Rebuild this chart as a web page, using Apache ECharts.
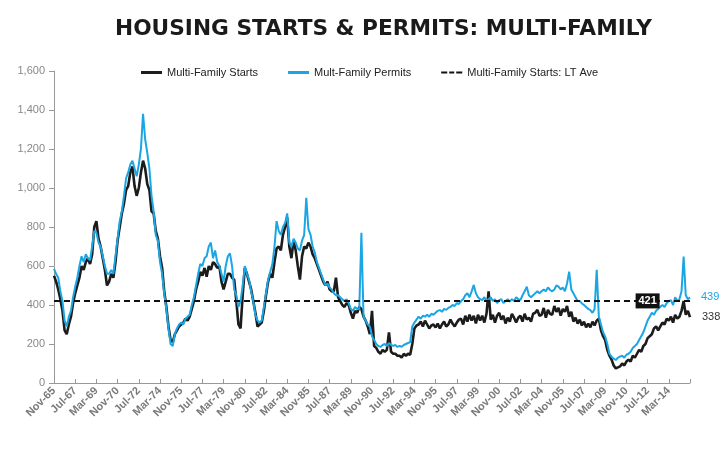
<!DOCTYPE html>
<html><head><meta charset="utf-8">
<script src="https://cdn.jsdelivr.net/npm/echarts@6/dist/echarts.min.js"></script>
<style>html,body{margin:0;padding:0;background:#fff}#c{width:728px;height:451px}</style>
</head><body><div id="c"></div>
<script>
// Bi-monthly observations starting Nov-65, thousands of units (SAAR)
const MONTHS = ['Jan','Feb','Mar','Apr','May','Jun','Jul','Aug','Sep','Oct','Nov','Dec'];
const categories = [];
for (let k = 0; k < 301; k++) {
  const m = 10 + 2 * k;
  categories.push(MONTHS[m % 12] + '-' + String((65 + Math.floor(m / 12)) % 100).padStart(2, '0'));
}
const tickLabels = ['Nov-65','Jul-67','Mar-69','Nov-70','Jul-72','Mar-74','Nov-75','Jul-77','Mar-79','Nov-80',
  'Jul-82','Mar-84','Nov-85','Jul-87','Mar-89','Nov-90','Jul-92','Mar-94','Nov-95','Jul-97',
  'Mar-99','Nov-00','Jul-02','Mar-04','Nov-05','Jul-07','Mar-09','Nov-10','Jul-12','Mar-14'];

const starts = [
  550,520,480,430,370,270,250,300,340,410,
  460,500,540,600,580,620,640,610,660,800,
  830,740,700,640,580,500,520,560,540,620,
  730,800,870,920,990,1010,1080,1110,1010,960,
  1000,1080,1140,1100,1020,990,880,870,780,740,
  650,590,470,390,290,220,210,250,270,290,
  300,310,330,320,340,380,420,480,520,570,
  550,590,545,600,580,620,610,590,600,520,
  480,520,560,560,540,530,420,300,280,450,
  590,560,520,480,420,360,290,300,310,370,
  450,520,560,540,620,690,700,680,760,800,
  850,700,640,730,680,600,530,650,700,690,
  720,700,660,640,610,580,550,520,500,520,
  480,470,470,540,440,420,400,390,410,400,
  360,330,370,360,390,380,340,320,290,250,
  370,190,180,160,150,170,160,170,260,160,
  150,150,140,140,130,150,140,150,145,200,
  280,295,300,315,290,320,300,280,295,300,
  285,305,280,300,315,290,300,325,305,290,
  310,325,330,300,345,315,350,320,345,305,
  350,320,345,310,355,470,325,350,310,345,
  360,325,345,305,335,315,355,335,310,335,
  345,315,355,325,335,315,355,360,375,345,
  350,385,335,375,355,350,395,365,385,345,
  380,365,395,340,365,315,335,305,325,295,
  315,285,305,285,315,295,320,330,270,240,
  220,170,140,120,90,75,80,85,100,90,
  110,120,110,140,130,150,170,160,190,200,
  230,240,250,280,290,270,290,310,300,330,
  320,340,310,350,330,340,370,420,350,370,
  338
];
const permits = [
  585,560,540,470,420,320,290,340,370,440,
  494,540,600,650,620,660,640,630,700,780,
  770,720,700,650,600,560,560,580,560,650,
  740,830,880,960,1050,1080,1120,1140,1100,1060,
  1120,1200,1380,1250,1180,1100,960,880,760,730,
  620,560,460,380,280,200,190,250,280,300,
  310,300,330,340,350,400,440,500,560,610,
  600,640,650,700,720,640,680,620,600,560,
  520,600,650,665,600,480,450,390,420,500,
  600,560,530,470,420,350,320,310,320,390,
  460,530,570,610,700,830,780,760,800,820,
  870,720,700,740,720,690,680,730,760,950,
  790,760,700,670,620,590,560,530,500,510,
  490,480,460,450,450,440,430,420,430,410,
  380,370,390,380,380,770,340,320,300,290,
  240,220,200,190,185,195,200,190,205,195,
  190,195,185,190,186,195,200,205,210,290,
  310,325,340,330,345,340,350,340,355,350,
  360,370,374,365,380,375,385,390,400,395,
  410,405,420,430,450,460,440,470,503,460,
  440,430,425,440,420,430,440,420,430,410,
  425,430,410,420,430,417,430,420,440,430,
  425,450,470,494,450,440,450,460,470,460,
  470,480,470,490,477,470,480,500,494,480,
  490,470,510,571,480,460,440,420,420,408,
  400,390,380,374,360,380,580,340,300,260,
  238,200,150,135,125,118,130,135,140,130,
  145,150,160,180,190,200,220,240,260,290,
  320,340,360,350,370,380,391,400,390,410,
  420,425,400,440,420,430,470,648,450,430,
  439
];
const ltAverage = 421;
const ltLabelAt = 'Jul-12';

const BLACK = '#1c1c1c', BLUE = '#1aa6e4';
const DASH_ICON = 'path://M0,0h6v2h-6z M8,0h5v2h-5z M15,0h6v2h-6z';
const chart = echarts.init(document.getElementById('c'));
chart.setOption({
  animation: false,
  backgroundColor: '#ffffff',
  title: {
    text: 'HOUSING STARTS & PERMITS: MULTI-FAMILY',
    left: 110, top: 13,
    textStyle: { fontFamily: 'DejaVu Sans', fontSize: 21.7, fontWeight: 'bold', color: '#1a1a1a' }
  },
  legend: {
    left: 136, top: 62, itemWidth: 21, itemHeight: 3, itemGap: 30,
    textStyle: { fontFamily: 'Liberation Sans', fontSize: 11, color: '#222' },
    data: [
      { name: 'Multi-Family Starts', icon: 'rect' },
      { name: 'Mult-Family Permits', icon: 'rect' },
      { name: 'Multi-Family Starts: LT Ave', icon: DASH_ICON }
    ]
  },
  grid: { left: 54, right: 38, top: 71, bottom: 68 },
  xAxis: {
    type: 'category', data: categories, boundaryGap: false,
    axisLine: { lineStyle: { color: '#999', width: 1 } },
    axisTick: { interval: 9, inside: true, length: 4, lineStyle: { color: '#999' } },
    axisLabel: {
      interval: 9, rotate: 45, margin: 6, fontFamily: 'Liberation Sans', fontSize: 11, fontWeight: 'bold', color: '#7a7a7a',
      formatter: v => tickLabels.includes(v) ? v : ''
    },
    splitLine: { show: false }
  },
  yAxis: {
    type: 'value', min: 0, max: 1600, interval: 200,
    axisLine: { show: true, lineStyle: { color: '#999' } },
    axisTick: { show: true, length: 5, lineStyle: { color: '#999' } },
    axisLabel: { fontFamily: 'Liberation Sans', fontSize: 11, color: '#888', margin: 9,
      formatter: v => v.toLocaleString('en-US') },
    splitLine: { show: false }
  },
  series: [
    {
      name: 'Multi-Family Starts', type: 'line', data: starts, symbol: 'none',
      lineStyle: { color: BLACK, width: 2.6 }, itemStyle: { color: BLACK },
      endLabel: { show: true, formatter: '{c}', color: '#333', fontFamily: 'Liberation Sans', fontSize: 11, offset: [4, 0] }
    },
    {
      name: 'Mult-Family Permits', type: 'line', data: permits, symbol: 'none',
      lineStyle: { color: BLUE, width: 2 }, itemStyle: { color: BLUE },
      endLabel: { show: true, formatter: '{c}', color: BLUE, fontFamily: 'Liberation Sans', fontSize: 11, offset: [3, 0] }
    },
    {
      name: 'Multi-Family Starts: LT Ave', type: 'line', data: [], symbol: 'none',
      lineStyle: { color: '#111', width: 2, type: [6, 4] }, itemStyle: { color: '#111' },
      markLine: {
        silent: true, symbol: 'none', label: { show: false },
        lineStyle: { color: '#111', width: 2, type: [6, 4] },
        data: [{ yAxis: ltAverage }]
      },
      markPoint: {
        symbol: 'rect', symbolSize: [24, 15],
        itemStyle: { color: '#111' },
        label: { show: true, position: 'inside', color: '#fff', fontFamily: 'Liberation Sans', fontSize: 11, fontWeight: 'bold', formatter: String(ltAverage) },
        data: [{ coord: [ltLabelAt, ltAverage], value: ltAverage }]
      }
    }
  ]
});
</script></body></html>
